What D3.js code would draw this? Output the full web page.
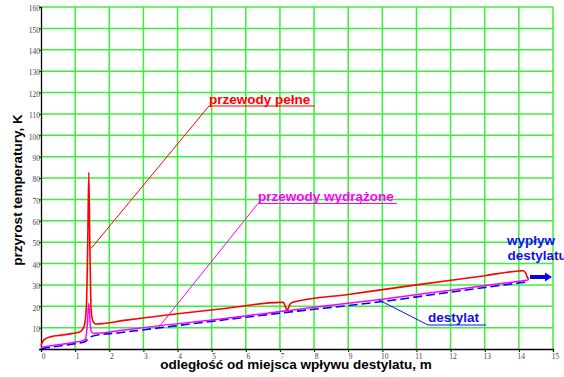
<!DOCTYPE html>
<html><head><meta charset="utf-8">
<script src="https://cdn.jsdelivr.net/npm/d3@7"></script>
<style>html,body{margin:0;padding:0;background:#fff;overflow:hidden}</style>
</head><body>
<svg id="c" width="564" height="377"></svg>
<script>
// ---- data ----
const xTicks = [0,1,2,3,4,5,6,7,8,9,10,11,12,13,14,15];
const yTicks = [10,20,30,40,50,60,70,80,90,100,110,120,130,140,150,160];

const redX = [0,0.05,0.15,0.3,0.6,0.9,1.1,1.2,1.27,1.33,1.37,1.40,1.43,1.47,1.52,1.6,2.5,4,5.5,7.0,7.1,7.18,7.22,7.28,7.35,9,11,13,14.0,14.13,14.2,14.25,14.3];
const redY = [1.5,3.5,5.0,5.8,6.5,7.2,7.8,8.8,11,20,50,82.5,50,18,13,11.7,13.5,16.5,19.2,21.8,21.8,19,18.3,20.5,21.8,25.5,30,34.3,36.5,36.6,35.5,33.5,32.5];

const magX = [0,0.5,1.0,1.2,1.3,1.35,1.40,1.44,1.48,1.55,2.3,3,5.5,7,8,10,12,14.28];
const magY = [0.8,2.0,3.2,3.8,4.5,10,21.4,12,8,7.3,8.6,10,14.5,17.5,19.5,23.3,27.5,32.3];

const bluX = [0,0.5,1.0,1.2,1.3,1.4,1.5,2.3,5.5,7,10,12,14.28];
const bluY = [0.2,1.3,2.5,3.0,3.5,5.0,6.0,7.6,13.9,16.8,22.2,26.6,31.5];

// ---- scales ----
const svg = d3.select("#c");
const x = d3.scaleLinear().domain([0,15]).range([41,553]);
const y = d3.scaleLinear().domain([0,160]).range([349,7]);

// grid
const gridCol = "#3bef3b";
svg.append("g").selectAll("line").data(xTicks.slice(1)).join("line")
  .attr("x1", d=>x(d)).attr("x2", d=>x(d)).attr("y1", y(0)).attr("y2", y(160))
  .attr("stroke", gridCol).attr("stroke-width", 1.5);
svg.append("g").selectAll("line").data(yTicks).join("line")
  .attr("x1", x(0)).attr("x2", x(15)).attr("y1", d=>y(d)).attr("y2", d=>y(d))
  .attr("stroke", gridCol).attr("stroke-width", 1.5);

// axes
const xAxis = svg.append("g").attr("transform", `translate(0,${y(0)})`)
  .call(d3.axisBottom(x).tickValues(xTicks).tickSize(3).tickFormat(d3.format("d")));
const yAxis = svg.append("g").attr("transform", `translate(${x(0)},0)`)
  .call(d3.axisLeft(y).tickValues(yTicks).tickSize(2).tickFormat(d3.format("d")));
[xAxis,yAxis].forEach(a=>{
  a.select(".domain").attr("stroke","#000").attr("stroke-width",1.3);
  a.selectAll(".tick line").attr("stroke","#000");
  a.selectAll("text").attr("font-family","'Liberation Serif', 'DejaVu Serif', serif")
   .attr("font-size","7.5px").attr("fill","#444");
});
xAxis.selectAll("text").attr("dx","2").attr("y",5);
yAxis.selectAll("text").attr("x",-1).attr("dy","0.5em");

// curves
function pts(xs, ys){ return xs.map((v,i)=>[v, ys[i]]); }
const line = d3.line().x(d=>x(d[0])).y(d=>y(d[1])).curve(d3.curveMonotoneX);
svg.append("path").attr("d", line(pts(bluX,bluY))).attr("fill","none")
  .attr("stroke","#0000ff").attr("stroke-width",1.6).attr("stroke-dasharray","9,4");
svg.append("path").attr("d", line(pts(magX,magY))).attr("fill","none")
  .attr("stroke","#ff00ff").attr("stroke-width",1.5);
svg.append("path").attr("d", line(pts(redX,redY))).attr("fill","none")
  .attr("stroke","#ff0000").attr("stroke-width",1.6);

// annotations
const F = "'Liberation Sans', Arial, sans-serif";
function label(txt, tx, ty, ux2, uy, lx, ly, col){
  svg.append("text").attr("x",tx).attr("y",ty).text(txt)
    .attr("font-family",F).attr("font-weight","bold").attr("font-size","13.5px").attr("fill",col);
  svg.append("line").attr("x1",tx).attr("x2",ux2).attr("y1",uy).attr("y2",uy)
    .attr("stroke",col).attr("stroke-width",1.2);
  svg.append("line").attr("x1",tx).attr("y1",uy).attr("x2",lx).attr("y2",ly)
    .attr("stroke",col).attr("stroke-width",1);
}
label("przewody pełne", 209, 103.5, 315, 106, 91, 248.5, "#ff0000");
label("przewody wydrążone", 258, 200.5, 397, 203.5, 159, 327, "#ff00ff");
label("destylat", 428, 321.5, 486, 325, 379, 300, "#1010ee");

svg.append("text").attr("x",507).attr("y",245).text("wypływ")
  .attr("font-family",F).attr("font-weight","bold").attr("font-size","13.5px").attr("fill","#1010ee");
svg.append("text").attr("x",507.5).attr("y",260).text("destylatu")
  .attr("font-family",F).attr("font-weight","bold").attr("font-size","13.5px").attr("fill","#1010ee");
// arrow
svg.append("path").attr("d","M530,275 L545,275 L545,272.5 L552,277 L545,281.5 L545,279 L530,279 Z")
  .attr("fill","#0000ff");

// axis titles
svg.append("text").attr("x",296).attr("y",369).attr("text-anchor","middle")
  .text("odległość od miejsca wpływu destylatu, m")
  .attr("font-family",F).attr("font-weight","bold").attr("font-size","13.5px").attr("fill","#000");
svg.append("text").attr("transform","translate(21.5,190) rotate(-90)").attr("text-anchor","middle")
  .text("przyrost temperatury, K")
  .attr("font-family",F).attr("font-weight","bold").attr("font-size","13.5px").attr("fill","#000");
</script>
</body></html>
